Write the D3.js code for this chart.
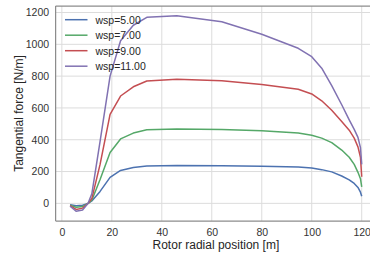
<!DOCTYPE html>
<html>
<head>
<meta charset="utf-8">
<script src="https://cdn.jsdelivr.net/npm/d3@7"></script>
<style>
  html, body { margin: 0; padding: 0; background: #fff; }
  svg { display: block; font-family: "Liberation Sans", Arial, sans-serif; }
</style>
</head>
<body>
<div id="chart"></div>
<script>
const radius = [3.3, 5.7, 8.3, 10.5, 12.0, 15.3, 19.3, 23.5, 28.6, 34.0, 46.0, 64.0, 80.0, 94.6, 100.0, 104.0, 108.0, 112.0, 115.0, 117.0, 118.5, 119.5, 120.0];
const wsp5  = [-8, -15, -12, 0, 15, 75, 163, 207, 226, 235, 238, 236, 233, 228, 222, 212, 198, 172, 148, 125, 100, 70, 45];
const wsp7  = [-12, -25, -20, 0, 20, 150, 320, 405, 442, 463, 468, 465, 457, 442, 428, 410, 382, 335, 290, 245, 195, 155, 104];
const wsp9  = [-15, -38, -30, 0, 30, 245, 560, 675, 733, 769, 780, 771, 748, 717, 688, 645, 585, 515, 460, 410, 355, 290, 167];
const wsp11 = [-18, -50, -42, 0, 60, 390, 800, 1022, 1120, 1170, 1180, 1142, 1063, 975, 922, 850, 740, 620, 525, 465, 415, 350, 245];
const seriesNames = ["wsp=5.00", "wsp=7.00", "wsp=9.00", "wsp=11.00"];
const seriesColors = ["#4C72B0", "#55A868", "#C44E52", "#8172B2"];
const xTicks = [0, 20, 40, 60, 80, 100, 120];
const yTicks = [0, 200, 400, 600, 800, 1000, 1200];
const xLabel = "Rotor radial position [m]";
const yLabel = "Tangential force [N/m]";

const W = 370, H = 256;
const L = 55.6, R = 376.2, T = 6, B = 221;

const svg = d3.select("#chart").append("svg")
  .attr("width", W).attr("height", H)
  .style("overflow", "hidden");

const x = d3.scaleLinear().domain([-2.5, 125.8]).range([L, R]);
const y = d3.scaleLinear().domain([-111, 1241]).range([B, T]);

// grid
const gridColor = "#dcdcdc";
svg.append("g").selectAll("line").data(xTicks).join("line")
  .attr("x1", d => x(d)).attr("x2", d => x(d))
  .attr("y1", T).attr("y2", B)
  .attr("stroke", gridColor).attr("stroke-width", 1);
svg.append("g").selectAll("line").data(yTicks).join("line")
  .attr("x1", L).attr("x2", R)
  .attr("y1", d => y(d)).attr("y2", d => y(d))
  .attr("stroke", gridColor).attr("stroke-width", 1);

// axes (labels only, no tick marks)
const xAxis = d3.axisBottom(x).tickValues(xTicks).tickSize(0).tickPadding(8).tickFormat(d3.format("d"));
const gx = svg.append("g").attr("transform", `translate(0,${B})`).call(xAxis);
gx.select(".domain").remove();
gx.selectAll("text").attr("font-size", 10.5).attr("fill", "#333")
  .attr("font-family", "Liberation Sans, Arial, sans-serif");

const yAxis = d3.axisLeft(y).tickValues(yTicks).tickSize(0).tickPadding(6.5).tickFormat(d3.format("d"));
const gy = svg.append("g").attr("transform", `translate(${L},0)`).call(yAxis);
gy.select(".domain").remove();
gy.selectAll("text").attr("font-size", 10.5).attr("fill", "#333")
  .attr("font-family", "Liberation Sans, Arial, sans-serif");

// lines
const allSeries = [wsp5, wsp7, wsp9, wsp11];
const line = d3.line().x(d => x(d[0])).y(d => y(d[1]));
allSeries.forEach((vals, i) => {
  svg.append("path")
    .datum(radius.map((r, j) => [r, vals[j]]))
    .attr("d", line)
    .attr("fill", "none")
    .attr("stroke", seriesColors[i])
    .attr("stroke-width", 1.5)
    .attr("stroke-linejoin", "round");
});

// spines
const spine = "#8c8c8c";
svg.append("line").attr("x1", L).attr("x2", L).attr("y1", T).attr("y2", B).attr("stroke", spine).attr("stroke-width", 1.25);
svg.append("line").attr("x1", L).attr("x2", R).attr("y1", B).attr("y2", B).attr("stroke", spine).attr("stroke-width", 1.25);
svg.append("line").attr("x1", L).attr("x2", R).attr("y1", T).attr("y2", T).attr("stroke", spine).attr("stroke-width", 1.25);
svg.append("line").attr("x1", R).attr("x2", R).attr("y1", T).attr("y2", B).attr("stroke", spine).attr("stroke-width", 1.25);

// axis labels
svg.append("text").attr("x", (L + R) / 2).attr("y", 249)
  .attr("text-anchor", "middle").attr("font-size", 12).attr("fill", "#262626")
  .text(xLabel);
svg.append("text")
  .attr("transform", `translate(22.5,${(T + B) / 2}) rotate(-90)`)
  .attr("text-anchor", "middle").attr("font-size", 12).attr("fill", "#262626")
  .text(yLabel);

// legend
const lg = svg.append("g");
seriesNames.forEach((name, i) => {
  const ly = 19.7 + i * 15.5;
  lg.append("line").attr("x1", 65).attr("x2", 87.5).attr("y1", ly).attr("y2", ly)
    .attr("stroke", seriesColors[i]).attr("stroke-width", 1.5);
  lg.append("text").attr("x", 95.5).attr("y", ly + 3.8)
    .attr("font-size", 10.5).attr("fill", "#262626").text(name);
});
</script>
</body>
</html>
